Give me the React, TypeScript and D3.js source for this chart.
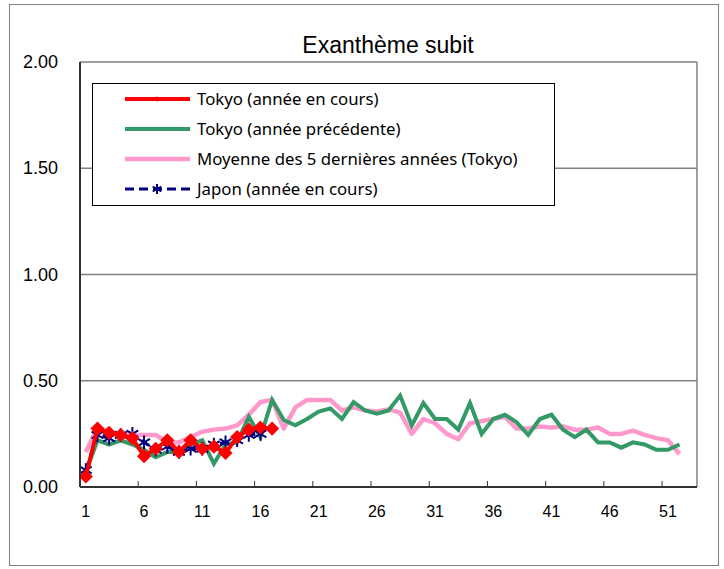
import React from 'react';
import * as d3 from 'd3';

// weekly values, per sentinel site
const weeks = d3.range(1, 54);
const xTickWeeks = [1, 6, 11, 16, 21, 26, 31, 36, 41, 46, 51];
const yTicks = [0, 0.5, 1.0, 1.5, 2.0];

const tokyoCurrent = [0.05, 0.275, 0.255, 0.245, 0.23, 0.145, 0.18, 0.22, 0.165, 0.22, 0.18, 0.19, 0.16, 0.235, 0.27, 0.28, 0.275];

const tokyoPrevious = [0.07, 0.22, 0.2, 0.22, 0.2, 0.175, 0.14, 0.165, 0.165, 0.2, 0.22, 0.11, 0.2, 0.21, 0.33, 0.235, 0.41, 0.315, 0.29, 0.32,
  0.355, 0.37, 0.32, 0.4, 0.36, 0.345, 0.36, 0.43, 0.29, 0.395, 0.32, 0.32, 0.27, 0.395, 0.25, 0.32, 0.34, 0.305, 0.245, 0.32,
  0.34, 0.27, 0.235, 0.27, 0.21, 0.21, 0.185, 0.21, 0.2, 0.175, 0.175, 0.2];

const tokyoAvg5 = [0.165, 0.28, 0.26, 0.25, 0.245, 0.245, 0.245, 0.21, 0.21, 0.235, 0.26, 0.27, 0.275, 0.29, 0.34, 0.4, 0.41, 0.275, 0.375, 0.41,
  0.41, 0.41, 0.36, 0.375, 0.36, 0.355, 0.365, 0.35, 0.25, 0.32, 0.3, 0.25, 0.225, 0.3, 0.31, 0.32, 0.33, 0.275, 0.275, 0.285,
  0.28, 0.285, 0.27, 0.27, 0.28, 0.25, 0.25, 0.265, 0.245, 0.23, 0.22, 0.155];

const japanCurrent = [0.08, 0.245, 0.23, 0.245, 0.25, 0.21, 0.175, 0.19, 0.165, 0.18, 0.18, 0.2, 0.21, 0.22, 0.245, 0.25];

const legendLabels = ['Tokyo (année en cours)', 'Tokyo (année précédente)', 'Moyenne des 5 dernières années (Tokyo)', 'Japon (année en cours)'];

const W = 724, H = 569;
const plot = { left: 80, right: 697, top: 62, bottom: 487 };

const RED = '#ff0000', GREEN = '#339966', PINK = '#ff99cc', NAVY = '#000080';

export default function App() {
  const x = d3.scaleBand<number>().domain(weeks).range([plot.left, plot.right]);
  const y = d3.scaleLinear().domain([0, 2]).range([plot.bottom, plot.top]);
  const cx = (w: number) => (x(w) as number) + x.bandwidth() / 2;

  const line = d3.line<number>()
    .x((d, i) => cx(i + 1))
    .y(d => y(d));

  const diamond = d3.symbol().type(d3.symbolSquare).size(100)();
  const star = d3.symbol().type(d3.symbolAsterisk).size(130)();

  const font = '"Liberation Sans", Arial, sans-serif';
  const legendFont = '"Noto Sans", "Liberation Sans", sans-serif';

  const legendRows = [
    { color: RED, width: 4, dash: undefined, marker: 'diamond' },
    { color: GREEN, width: 4, dash: undefined, marker: null },
    { color: PINK, width: 4.5, dash: undefined, marker: null },
    { color: NAVY, width: 3, dash: '9,5', marker: 'star' },
  ];

  return (
    <div style={{ position: 'absolute', left: 0, top: 0 }}>
      <svg width={W} height={H} style={{ display: 'block', background: '#fff' }}>
        <rect x={9.5} y={4.5} width={709} height={561} fill="#fff" stroke="#7f7f7f" strokeWidth={1} />

        <text x={388} y={53} textAnchor="middle" fontFamily={font} fontSize={23}>Exanthème subit</text>

        {/* gridlines */}
        {yTicks.filter(t => t > 0).map(t => (
          <line key={t} x1={plot.left} x2={plot.right} y1={y(t)} y2={y(t)} stroke="#808080" strokeWidth={1.5} />
        ))}
        <line x1={plot.right} x2={plot.right} y1={plot.top} y2={plot.bottom} stroke="#808080" strokeWidth={1.5} />

        {/* y labels */}
        {yTicks.map(t => (
          <text key={t} x={58} y={y(t) + 6} textAnchor="end" fontFamily={font} fontSize={18}>{t.toFixed(2)}</text>
        ))}

        {/* x ticks + labels */}
        {xTickWeeks.map(w => (
          <g key={w}>
            {w > 1 && <line x1={x(w)} x2={x(w)} y1={plot.bottom} y2={plot.bottom - 6} stroke="#333" strokeWidth={1} />}
            <text x={cx(w)} y={517} textAnchor="middle" fontFamily={font} fontSize={16}>{w}</text>
          </g>
        ))}

        {/* series */}
        <path d={line(tokyoAvg5) || ''} fill="none" stroke={PINK} strokeWidth={4.5} strokeLinejoin="round" />
        <path d={line(tokyoPrevious) || ''} fill="none" stroke={GREEN} strokeWidth={4} strokeLinejoin="miter" />
        <path d={line(japanCurrent) || ''} fill="none" stroke={NAVY} strokeWidth={3} strokeDasharray="9,5" />
        {japanCurrent.map((v, i) => (
          <path key={i} d={star || ''} transform={`translate(${cx(i + 1)},${y(v)})`} fill="none" stroke={NAVY} strokeWidth={2} />
        ))}
        <path d={line(tokyoCurrent) || ''} fill="none" stroke={RED} strokeWidth={4} />
        {tokyoCurrent.map((v, i) => (
          <path key={i} d={diamond || ''} transform={`translate(${cx(i + 1)},${y(v)}) rotate(45)`} fill={RED} />
        ))}

        {/* axes */}
        <line x1={plot.left} x2={plot.left} y1={plot.top} y2={plot.bottom} stroke="#333" strokeWidth={2} />
        <line x1={plot.left} x2={plot.right} y1={plot.bottom} y2={plot.bottom} stroke="#333" strokeWidth={2} />

        {/* legend */}
        <rect x={92.5} y={83.5} width={462} height={122} fill="#fff" stroke="#000" strokeWidth={1} />
        {legendRows.map((r, i) => {
          const ly = 99 + i * 30;
          return (
            <g key={i}>
              <line x1={125} x2={190} y1={ly} y2={ly} stroke={r.color} strokeWidth={r.width} strokeDasharray={r.dash} />
              {r.marker === 'diamond' && <path d={d3.symbol().type(d3.symbolSquare).size(14)() || ''} transform={`translate(157,${ly}) rotate(45)`} fill={RED} />}
              {r.marker === 'star' && <path d={d3.symbol().type(d3.symbolAsterisk).size(70)() || ''} transform={`translate(157,${ly})`} fill="none" stroke={NAVY} strokeWidth={2} />}
              <text x={197} y={ly + 6} fontFamily={legendFont} fontSize={16.8}>{legendLabels[i]}</text>
            </g>
          );
        })}
      </svg>
    </div>
  );
}
